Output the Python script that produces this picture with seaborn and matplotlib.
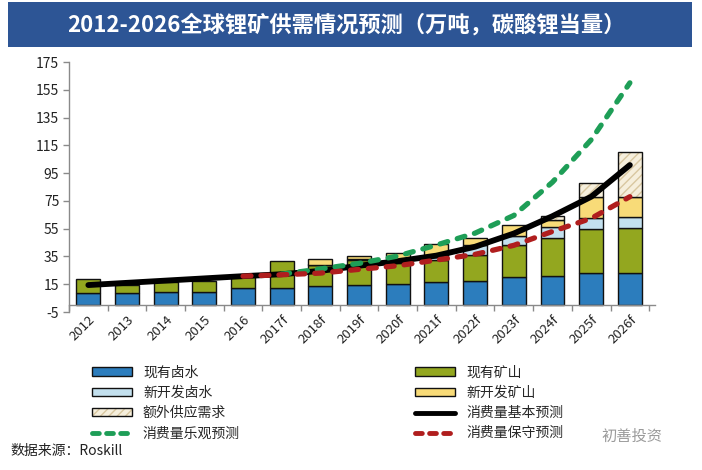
import numpy as np
import pandas as pd
import matplotlib
matplotlib.use("Agg")
import matplotlib.pyplot as plt
from matplotlib.patches import Patch, Rectangle
from matplotlib.lines import Line2D
import seaborn as sns

# ---------------- data ----------------
years = ['2012', '2013', '2014', '2015', '2016', '2017f', '2018f', '2019f',
         '2020f', '2021f', '2022f', '2023f', '2024f', '2025f', '2026f']
brine_existing = [9.0, 8.4, 9.6, 9.6, 12.0, 12.5, 13.7, 14.2, 14.9, 16.8, 17.2, 20.0, 20.9, 22.8, 22.8]
mine_existing = [9.5, 6.0, 6.7, 8.0, 9.0, 19.4, 15.0, 18.2, 15.5, 15.6, 18.8, 23.2, 27.5, 31.8, 32.4]
brine_new = [0, 0, 0, 0, 0, 0, 0.5, 0.5, 1.5, 2.5, 7.2, 6.4, 7.5, 8.0, 8.4]
mine_new = [0, 0, 0, 0, 0, 0, 3.7, 2.4, 5.8, 8.8, 5.3, 8.0, 5.1, 15.0, 14.4]
extra_supply = [0, 0, 0, 0, 0, 0, 0, 0, 0, 0, 0, 0, 3.2, 10.4, 32.4]

base_forecast = [14.4, 16.0, 17.6, 19.2, 20.8, 22.2, 24.6, 28.3, 31.6, 35.6, 42.0, 51.5, 64.0, 78.0, 100.8]
optimistic_years = years[5:]
optimistic_forecast = [22.2, 26.0, 30.0, 35.3, 43.2, 51.8, 64.5, 88.5, 119.0, 160.0]
conservative_years = years[4:]
conservative_forecast = [20.8, 21.8, 23.0, 25.7, 28.3, 32.4, 36.5, 43.0, 53.0, 62.4, 78.0]

yticks = [-5, 15, 35, 55, 75, 95, 115, 135, 155, 175]

labels = ['现有卤水', '现有矿山', '新开发卤水', '新开发矿山', '额外供应需求',
          '消费量基本预测', '消费量乐观预测', '消费量保守预测']
title = '2012-2026全球锂矿供需情况预测（万吨，碳酸锂当量）'
source = '数据来源：Roskill'
watermark = '初善投资'

# ---------------- style ----------------
sns.set_theme(style='white')
plt.rcParams['font.family'] = ['Noto Sans CJK SC', 'DejaVu Sans']

c_blue = '#2C7DBD'
c_green = '#93A71F'
c_lblue = '#C3E0EE'
c_yellow = '#F8DB78'
c_beige = '#F6EFDC'
c_hatch = '#D9C7A0'
c_opt = '#1E9E57'
c_con = '#B01E1E'

fig = plt.figure(figsize=(7.02, 4.70), dpi=100)
ax = fig.add_axes([69 / 702, 1 - 312 / 470, (655 - 69) / 702, 250 / 470])

df = pd.DataFrame({'year': years, 'b1': brine_existing, 'm1': mine_existing,
                   'b2': brine_new, 'm2': mine_new, 'ex': extra_supply})

bw = 0.62
bottom = np.zeros(len(years))
layers = [('b1', c_blue), ('m1', c_green), ('b2', c_lblue), ('m2', c_yellow)]
for col, colr in layers:
    sns.barplot(data=df, x='year', y=col, order=years, color=colr, width=bw,
                bottom=bottom, edgecolor='#111111', linewidth=1.0,
                errorbar=None, saturation=1, ax=ax)
    bottom = bottom + df[col].to_numpy()

# extra supply with hatch (fill + hatch, then black outline)
sns.barplot(data=df, x='year', y='ex', order=years, color=c_beige, width=bw,
            bottom=bottom, edgecolor=c_hatch, linewidth=0, hatch='////',
            errorbar=None, saturation=1, ax=ax)
sns.barplot(data=df, x='year', y='ex', order=years, color='#111111', fill=False,
            width=bw, bottom=bottom, linewidth=1.0, errorbar=None, ax=ax)
for p in ax.patches:
    if p.get_height() == 0:
        p.set_visible(False)

# lines
dash = (0, (1.5, 1.9))
sns.lineplot(x=years, y=base_forecast, color='black', lw=4.2, sort=False,
             solid_capstyle='round', ax=ax)
sns.lineplot(x=optimistic_years, y=optimistic_forecast, color=c_opt, lw=3.8,
             sort=False, linestyle=dash, dash_capstyle='round', ax=ax)
sns.lineplot(x=conservative_years, y=conservative_forecast, color=c_con, lw=3.8,
             sort=False, linestyle=dash, dash_capstyle='round', ax=ax)

# axes
ax.set_xlim(-0.5, len(years) - 1 + 0.65)
ax.set_ylim(-5, 175)
ax.set_yticks(yticks)
ax.set_yticklabels([str(v) for v in yticks], fontsize=10, color='#222222')
ax.set_xlabel('')
ax.set_ylabel('')
for s in ['top', 'right']:
    ax.spines[s].set_visible(False)
ax.spines['left'].set_color('#8A8A8A')
ax.spines['left'].set_linewidth(1.0)
ax.spines['bottom'].set_position(('data', 0))
ax.spines['bottom'].set_color('#8A8A8A')
ax.spines['bottom'].set_linewidth(1.0)
ax.set_xticks(range(len(years)))
ax.set_xticklabels(years, rotation=45, ha='right', rotation_mode='anchor',
                   fontsize=9.5, color='#222222')
ax.set_xticks(np.arange(-0.5, len(years), 1.0), minor=True)
ax.tick_params(axis='x', which='major', length=0, pad=6)
ax.tick_params(axis='x', which='minor', length=4, width=1, color='#8A8A8A',
               direction='out', bottom=True)
ax.tick_params(axis='y', which='major', length=4, width=1, color='#8A8A8A',
               direction='out', left=True, pad=3)

# title bar
fig.patches.append(Rectangle((8 / 702, 1 - 47 / 470), 684 / 702, 45 / 470,
                             transform=fig.transFigure, facecolor='#2D5595',
                             edgecolor='none', zorder=0))
fig.text(346 / 702, 1 - 25 / 470, title, color='white', fontsize=16,
         fontweight='bold', ha='center', va='center')

# legend
h_b1 = Patch(facecolor=c_blue, edgecolor='#111111', linewidth=1.0)
h_m1 = Patch(facecolor=c_green, edgecolor='#111111', linewidth=1.0)
h_b2 = Patch(facecolor=c_lblue, edgecolor='#111111', linewidth=1.0)
h_m2 = Patch(facecolor=c_yellow, edgecolor='#111111', linewidth=1.0)
h_ex = (Patch(facecolor=c_beige, edgecolor=c_hatch, hatch='////', linewidth=0),
        Patch(facecolor='none', edgecolor='#111111', linewidth=1.0))
h_base = Line2D([], [], color='black', lw=3.5)
h_opt = Line2D([], [], color=c_opt, lw=3.5, linestyle=(0, (1.4, 1.5)), dash_capstyle='round')
h_con = Line2D([], [], color=c_con, lw=3.5, linestyle=(0, (1.4, 1.5)), dash_capstyle='round')

handles = [h_b1, h_b2, h_ex, h_opt, h_m1, h_m2, h_base, h_con]
leg_labels = [labels[0], labels[2], labels[4], labels[6],
              labels[1], labels[3], labels[5], labels[7]]
fig.legend(handles, leg_labels, ncol=2, loc='upper left',
           bbox_to_anchor=(86 / 702, 1 - 360 / 470), frameon=False,
           fontsize=10, handlelength=2.9, handleheight=0.55, handletextpad=0.8,
           columnspacing=12.6, labelspacing=0.45, borderaxespad=0)

fig.text(10 / 702, 1 - 451 / 470, source, fontsize=10, color='#222222',
         ha='left', va='center')
fig.text(632 / 702, 1 - 436 / 470, watermark, fontsize=11, color='#9A9A9A',
         ha='center', va='center')

fig.savefig('out.png', dpi=100, facecolor='white')
